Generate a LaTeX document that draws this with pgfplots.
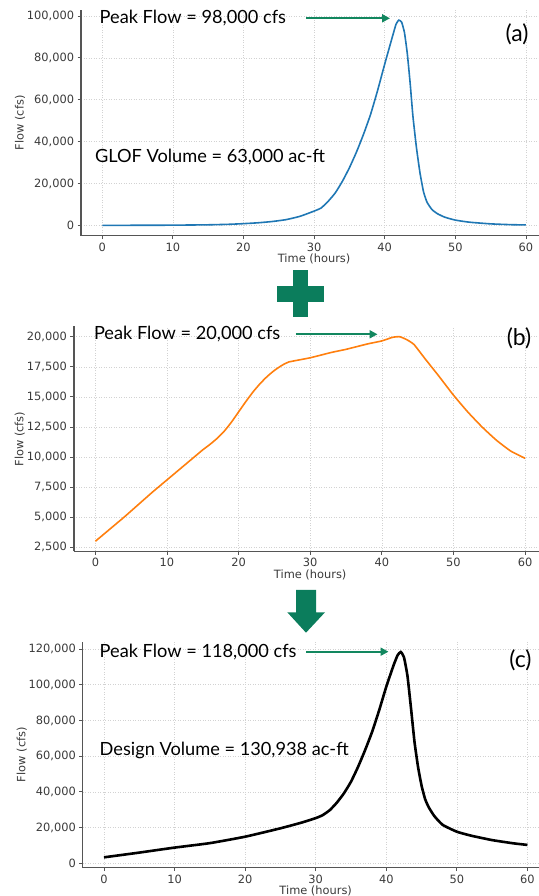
\documentclass[border=0pt]{standalone}
\usepackage{fontspec}
\setmainfont{DejaVu Sans}
\newfontfamily\annfont{Lato}
\usepackage{pgfplots}
\pgfplotsset{compat=1.18}
\usetikzlibrary{arrows.meta}
\definecolor{mblue}{HTML}{1F77B4}
\definecolor{morange}{HTML}{FF7F0E}
\definecolor{dgreen}{HTML}{0B7D5C}
\definecolor{agreen}{HTML}{12875F}
\definecolor{spine}{HTML}{555555}
\definecolor{ticklab}{HTML}{3A3A3A}

\pgfplotstableread{
t q
0 0
5 20
10 80
15 250
18 500
20 800
22 1200
24 1800
26 2700
28 4300
30 6800
31 8300
32 11500
33 15500
34 21000
35 27500
36 35000
37 43500
38 53000
39 64500
40 77000
41 89000
41.6 96000
42 98000
42.4 97000
42.8 92000
43.2 82000
43.6 68000
44.0 52000
44.5 37000
45.0 25000
45.5 16000
46.0 11000
46.7 7500
47.5 5500
48.5 3900
50 2500
52 1500
55 700
58 300
60 200
}\glof

\pgfplotstableread{
t q
0 3000
2 4000
4 5000
6 6050
8 7100
10 8100
12 9100
14 10100
15 10600
16 11050
17 11550
18 12150
19 12900
20 13750
21 14600
22 15400
23 16100
24 16700
25 17200
26 17600
27 17900
30 18250
33 18700
35 18950
38 19400
40 19650
41.5 19950
42.5 20000
43.5 19750
44.5 19350
46 18200
48 16700
50 15150
52 13750
54 12500
56 11400
58 10500
60 9900
}\base

\pgfplotstableread{
t q
0 3350
5 6000
10 8800
15 11300
20 14900
25 19600
28 22800
30 25300
31 27000
32 29800
33 34000
34 39200
35 45700
36 54000
37 63400
38 73700
39 85800
40 98900
41 110500
41.6 116500
42.05 118350
42.5 115500
43.0 105000
43.5 87000
44.0 68000
44.5 54000
45.0 43500
45.5 36000
46.0 31500
46.8 26500
48 21500
50 17700
52 15500
55 13000
58 11200
60 10300
}\design

\pgfplotsset{
 hyd/.style={
  scale only axis,
  axis lines=left,
  axis line style={-, spine, line width=1.3pt},
  xmin=-3, xmax=63,
  xtick={0,10,...,60},
  tick align=outside,
  major tick length=3.5pt,
  tick style={spine, line width=0.8pt},
  grid=major,
  grid style={dash pattern=on 1pt off 1.5pt, gray!35, line width=0.6pt},
  tick label style={font=\fontsize{11.4}{11.4}\selectfont, text=ticklab},
  label style={font=\fontsize{11.4}{11.4}\selectfont, text=ticklab},
  /pgf/number format/assume math mode=true,
  /pgf/number format/fixed,
  /pgf/number format/precision=0,
  /pgf/number format/1000 sep={,},
  scaled y ticks=false,
  scaled x ticks=false,
  xlabel={Time (hours)},
  ylabel={Flow (cfs)},
  xlabel style={at={(axis description cs:0.5,0)}, anchor=center, yshift=-23pt},
 }
}

\begin{document}
\begin{tikzpicture}
\useasboundingbox (0,0) rectangle (538pt,896pt);

% ---------- (a) ----------
\begin{axis}[hyd, at={(81.1pt,660.4pt)}, anchor=south west,
  width=466pt, height=225.7pt,
  ymin=-4900, ymax=102900, ytick={0,20000,...,100000},
  ylabel style={at={([xshift=-61pt]axis description cs:0,0.5)}, anchor=center}]
\addplot[mblue, line width=1.6pt, smooth, tension=0.3] table[x=t,y=q] {\glof};
\end{axis}

% ---------- (b) ----------
\begin{axis}[hyd, at={(73.9pt,344.5pt)}, anchor=south west,
  width=472.6pt, height=225pt,
  ymin=2150, ymax=20850, ytick={2500,5000,...,20000},
  ylabel style={at={([xshift=-54pt]axis description cs:0,0.5)}, anchor=center}]
\addplot[morange, line width=1.6pt, smooth, tension=0.3] table[x=t,y=q] {\base};
\end{axis}

% ---------- (c) ----------
\begin{axis}[hyd, at={(82.8pt,28.4pt)}, anchor=south west,
  width=465.8pt, height=225.9pt,
  ymin=-2400, ymax=124100, ytick={0,20000,...,120000},
  ylabel style={at={([xshift=-61pt]axis description cs:0,0.5)}, anchor=center}]
\addplot[black, line width=2.6pt, smooth, tension=0.3] table[x=t,y=q] {\design};
\end{axis}

% annotations
\begin{scope}[every node/.style={inner sep=0pt, text=black}]
\node[anchor=base west, font=\annfont\fontsize{18.2}{18.2}\selectfont] at (99.5pt,872.7pt) {Peak Flow = 98,000 cfs};
\node[anchor=base west, font=\annfont\fontsize{18.2}{18.2}\selectfont] at (94.8pt,733.3pt) {GLOF Volume = 63,000 ac-ft};
\node[anchor=center, font=\annfont\fontsize{23}{23}\selectfont] at (517pt,861.5pt) {(a)};

\node[anchor=base west, font=\annfont\fontsize{18.2}{18.2}\selectfont] at (93.8pt,556pt) {Peak Flow = 20,000 cfs};
\node[anchor=center, font=\annfont\fontsize{23}{23}\selectfont] at (519pt,557.7pt) {(b)};

\node[anchor=base west, font=\annfont\fontsize{18.2}{18.2}\selectfont] at (99.5pt,238.3pt) {Peak Flow = 118,000 cfs};
\node[anchor=base west, font=\annfont\fontsize{18.2}{18.2}\selectfont] at (99.5pt,140pt) {Design Volume = 130,938 ac-ft};
\node[anchor=center, font=\annfont\fontsize{23}{23}\selectfont] at (520.4pt,236pt) {(c)};
\end{scope}

\draw[agreen, line width=2.2pt, -{Triangle[length=8pt,width=8pt]}] (306pt,877.7pt) -- (390pt,877.7pt);
\draw[agreen, line width=2.2pt, -{Triangle[length=8pt,width=8pt]}] (295.8pt,561.7pt) -- (377.5pt,561.7pt);
\draw[agreen, line width=2.2pt, -{Triangle[length=8pt,width=8pt]}] (306.4pt,244.3pt) -- (388.5pt,244.3pt);

% plus sign
\fill[dgreen] (292.7pt,578.7pt) rectangle (308.3pt,626pt);
\fill[dgreen] (277.3pt,594.3pt) rectangle (324pt,610.3pt);
% down arrow
\fill[dgreen] (296pt,306pt) -- (316pt,306pt) -- (316pt,283.7pt) -- (325pt,283.7pt) -- (306pt,263.3pt) -- (287.3pt,283.7pt) -- (296pt,283.7pt) -- cycle;
\end{tikzpicture}
\end{document}
